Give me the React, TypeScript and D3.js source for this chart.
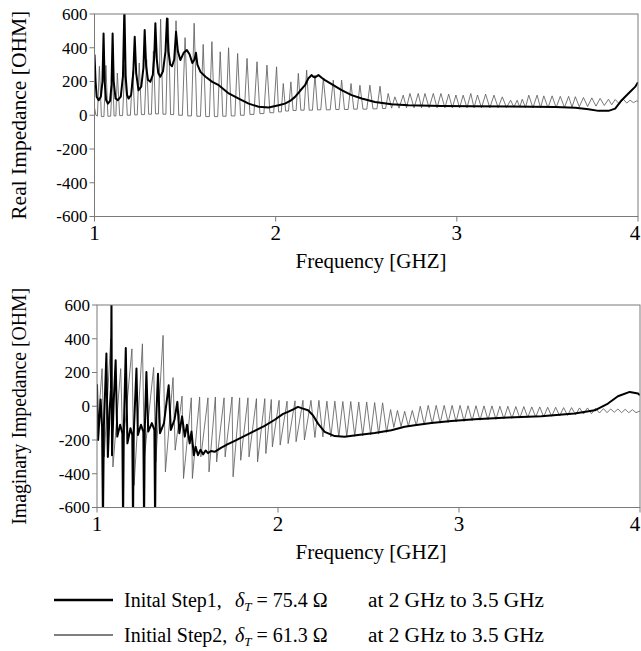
import * as d3 from 'd3';

type Pt = [number, number];

const FREQ_TICKS = [1, 2, 3, 4];
const IMP_TICKS = [-600, -400, -200, 0, 200, 400, 600];

// Initial Step1 (thick) - real part
const step1Real: Pt[] = [
  [1.000, 360], [1.006, 200], [1.012, 110], [1.023, 89], [1.035, 110], [1.044, 200], [1.050, 485],
  [1.056, 200], [1.064, 90], [1.074, 69], [1.086, 85], [1.094, 180], [1.100, 485], [1.106, 200],
  [1.116, 100], [1.129, 89], [1.145, 110], [1.157, 230], [1.165, 640], [1.172, 230], [1.180, 120],
  [1.188, 99], [1.202, 120], [1.214, 250], [1.222, 465], [1.230, 250], [1.243, 148], [1.258, 170],
  [1.270, 280], [1.277, 505], [1.285, 290], [1.295, 210], [1.308, 198], [1.322, 240], [1.330, 350],
  [1.336, 545], [1.344, 330], [1.352, 250], [1.363, 228], [1.378, 260], [1.392, 380], [1.400, 574],
  [1.408, 380], [1.418, 300], [1.428, 290], [1.440, 330], [1.450, 495], [1.460, 380], [1.474, 327],
  [1.492, 370], [1.510, 386], [1.525, 360], [1.540, 310], [1.552, 330], [1.560, 370], [1.568, 300],
  [1.585, 257], [1.613, 228], [1.650, 198], [1.686, 178], [1.741, 129], [1.796, 99], [1.851, 69],
  [1.906, 50], [1.961, 46], [2.017, 59], [2.051, 69], [2.080, 85], [2.107, 109], [2.135, 145],
  [2.162, 178], [2.180, 218], [2.199, 238], [2.208, 228], [2.217, 224], [2.236, 238], [2.254, 222],
  [2.272, 208], [2.318, 178], [2.364, 149], [2.419, 119], [2.475, 99], [2.548, 79], [2.640, 65],
  [2.732, 59], [2.916, 55], [3.081, 53], [3.300, 52], [3.544, 49], [3.654, 45], [3.727, 36],
  [3.782, 26], [3.837, 26], [3.874, 39], [3.910, 89], [3.947, 129], [3.984, 168], [4.000, 196],
];

// Initial Step2 (thin) - real part: narrow spikes over a flat floor
const step2Real: Pt[] = [
  [1.000, 45], [1.008, 0], [1.016, -5], [1.027, 290], [1.038, -8], [1.052, -8], [1.063, 295],
  [1.074, -6], [1.089, -6], [1.100, 240], [1.108, -4], [1.118, -4], [1.126, 250], [1.139, -2],
  [1.155, -2], [1.168, 300], [1.181, 0], [1.198, 0], [1.211, 260], [1.222, 2], [1.236, 2],
  [1.247, 310], [1.259, 4], [1.276, 4], [1.288, 330], [1.299, 6], [1.314, 6], [1.325, 380],
  [1.337, 8], [1.353, 8], [1.365, 570], [1.378, 6], [1.394, 6], [1.407, 575], [1.420, 4],
  [1.437, 4], [1.450, 560], [1.465, 0], [1.485, 0], [1.500, 460], [1.515, -4], [1.535, -4],
  [1.550, 545], [1.565, -6], [1.585, -6], [1.600, 420], [1.614, -8], [1.634, -8], [1.648, 436],
  [1.662, -8], [1.680, -8], [1.694, 376], [1.708, -6], [1.726, -6], [1.740, 400], [1.755, -4],
  [1.775, -4], [1.790, 366], [1.806, 0], [1.826, 0], [1.842, 337], [1.858, 5], [1.880, 5],
  [1.897, 317], [1.913, 10], [1.935, 10], [1.952, 297], [1.968, 15], [1.989, 15], [2.005, 287],
  [2.016, 20], [2.031, 20], [2.042, 188], [2.055, 25], [2.071, 25], [2.084, 198], [2.096, 28],
  [2.113, 28], [2.125, 248], [2.139, 30], [2.157, 30], [2.171, 267], [2.185, 30], [2.203, 30],
  [2.217, 238], [2.231, 32], [2.249, 32], [2.263, 218], [2.280, 32], [2.301, 32], [2.318, 208],
  [2.332, 34], [2.350, 34], [2.364, 208], [2.380, 34], [2.400, 34], [2.416, 188], [2.431, 36],
  [2.450, 36], [2.465, 178], [2.482, 36], [2.503, 36], [2.520, 178], [2.537, 38], [2.559, 38],
  [2.576, 172], [2.590, 40], [2.607, 40], [2.621, 129], [2.640, 42], [2.658, 109], [2.681, 42],
  [2.704, 119], [2.722, 44], [2.741, 129], [2.764, 44], [2.787, 129], [2.805, 44], [2.824, 129],
  [2.847, 44], [2.870, 129], [2.891, 44], [2.912, 129], [2.934, 44], [2.955, 125], [2.975, 44],
  [2.995, 120], [3.015, 44], [3.035, 119], [3.056, 44], [3.077, 129], [3.095, 44], [3.114, 120],
  [3.136, 44], [3.159, 125], [3.182, 44], [3.205, 119], [3.228, 45], [3.251, 109], [3.274, 46],
  [3.297, 89], [3.315, 48], [3.333, 89], [3.347, 48], [3.361, 95], [3.379, 46], [3.397, 119],
  [3.420, 44], [3.443, 119], [3.462, 44], [3.480, 115], [3.503, 44], [3.526, 115], [3.548, 45],
  [3.571, 112], [3.594, 46], [3.617, 112], [3.636, 48], [3.654, 110], [3.676, 50], [3.699, 105],
  [3.722, 52], [3.745, 103], [3.768, 54], [3.791, 100], [3.814, 58], [3.837, 95], [3.855, 62],
  [3.874, 93], [3.897, 68], [3.919, 95], [3.938, 72], [3.956, 89], [3.975, 75], [3.993, 85],
  [4.000, 82],
];

// Initial Step1 (thick) - imaginary part
const step1Imag: Pt[] = [
  [1.000, 130], [1.006, -200], [1.020, 40], [1.028, -120], [1.033, -700], [1.038, -120], [1.052, 312],
  [1.060, -300], [1.070, -20], [1.077, 100], [1.080, 650], [1.083, -290], [1.092, 20], [1.103, 272],
  [1.112, -180], [1.128, -110], [1.140, -160], [1.144, -700], [1.148, -150], [1.159, 345], [1.168, -220],
  [1.185, -130], [1.195, -170], [1.199, -700], [1.203, -160], [1.218, 223], [1.226, -170], [1.243, -110],
  [1.256, -150], [1.260, -700], [1.264, -140], [1.273, 203], [1.283, -150], [1.303, -100], [1.317, -140],
  [1.321, -700], [1.325, -130], [1.337, 193], [1.348, -160], [1.370, -100], [1.396, 124], [1.408, -140],
  [1.428, -80], [1.444, 26], [1.455, -160], [1.470, -60], [1.485, -180], [1.497, -110], [1.512, -220],
  [1.522, -150], [1.535, -290], [1.545, -240], [1.558, -290], [1.572, -258], [1.586, -285], [1.600, -262],
  [1.613, -278], [1.630, -265], [1.650, -270], [1.687, -245], [1.723, -225], [1.761, -205], [1.816, -176],
  [1.871, -146], [1.926, -116], [1.982, -80], [2.028, -45], [2.055, -33], [2.090, -15], [2.110, -4],
  [2.138, -14], [2.166, -24], [2.193, -53], [2.221, -103], [2.258, -152], [2.313, -177], [2.368, -181],
  [2.442, -171], [2.534, -158], [2.626, -142], [2.700, -122], [2.755, -112], [2.847, -99], [2.958, -87],
  [3.087, -77], [3.271, -67], [3.455, -59], [3.639, -43], [3.750, -24], [3.823, 16], [3.878, 59],
  [3.943, 85], [3.989, 75], [4.000, 65],
];

// Initial Step2 (thin) - imaginary part
const step2Imag: Pt[] = [
  [1.000, -200], [1.028, 223], [1.040, -300], [1.076, 400], [1.088, -360], [1.131, 223], [1.143, -250],
  [1.193, 340], [1.205, -468], [1.251, 370], [1.262, -300], [1.313, 230], [1.325, -330], [1.365, 420],
  [1.378, -389], [1.420, 170], [1.432, -260], [1.470, 60], [1.478, -428], [1.521, 50], [1.527, -428],
  [1.567, 55], [1.574, -300], [1.613, 50], [1.619, -389], [1.654, 55], [1.661, -330], [1.702, 50],
  [1.708, -300], [1.746, 55], [1.752, -418], [1.788, 50], [1.794, -320], [1.834, 50], [1.840, -300],
  [1.881, 45], [1.887, -330], [1.927, 45], [1.933, -280], [1.963, 40], [1.969, -241], [2.006, 35],
  [2.012, -230], [2.050, 30], [2.056, -221], [2.094, 32], [2.100, -210], [2.138, 35], [2.146, -200],
  [2.182, 35], [2.204, -185], [2.226, 35], [2.248, -182], [2.270, 30], [2.292, -182], [2.314, 30],
  [2.336, -182], [2.358, 28], [2.380, -180], [2.402, 28], [2.424, -178], [2.446, 25], [2.468, -175],
  [2.490, 25], [2.512, -170], [2.534, 22], [2.556, -165], [2.578, 20], [2.600, -155], [2.622, -20],
  [2.640, -125], [2.660, -25], [2.680, -120], [2.700, -30], [2.720, -118], [2.742, -25], [2.764, -115],
  [2.786, 0], [2.808, -110], [2.830, 5], [2.852, -105], [2.874, 5], [2.896, -100], [2.918, 5],
  [2.940, -96], [2.962, 5], [2.984, -93], [3.006, 5], [3.028, -90], [3.050, 3], [3.072, -86],
  [3.094, 3], [3.116, -83], [3.138, 2], [3.160, -80], [3.182, 2], [3.204, -78], [3.226, 0],
  [3.248, -75], [3.270, 0], [3.292, -72], [3.314, -2], [3.336, -70], [3.358, -2], [3.380, -67],
  [3.402, -4], [3.424, -64], [3.446, -4], [3.468, -62], [3.490, -6], [3.512, -60], [3.534, -6],
  [3.556, -57], [3.578, -8], [3.600, -54], [3.622, -8], [3.644, -50], [3.666, -10], [3.688, -46],
  [3.710, -10], [3.732, -44], [3.754, -12], [3.776, -40], [3.798, -14], [3.818, -38], [3.838, -16],
  [3.858, -36], [3.878, -16], [3.898, -38], [3.918, -18], [3.938, -38], [3.958, -20], [3.978, -38],
  [4.000, -28],
];

const LEGEND = [
  { name: 'Inital Step1,', delta: '75.4', range: 'at 2 GHz to 3.5 GHz', thick: true },
  { name: 'Initial Step2,', delta: '61.3', range: 'at 2 GHz to 3.5 GHz', thick: false },
];

const FONT = 'Liberation Serif, Tinos, Times New Roman, DejaVu Serif, serif';
const AXIS = '#7a7a7a';

function Panel({ box, label, labelLen, s1, s2, id }: any) {
  const x = d3.scaleLinear().domain([1, 4]).range([box.left, box.right]);
  const y = d3.scaleLinear().domain([-600, 600]).range([box.bottom, box.top]);
  const line = d3.line<Pt>().x(d => x(d[0])).y(d => y(d[1]));
  const midY = (box.top + box.bottom) / 2;

  return (
    <g>
      <defs>
        <clipPath id={id}>
          <rect x={box.left} y={box.top} width={box.right - box.left} height={box.bottom - box.top} />
        </clipPath>
      </defs>
      <g clipPath={`url(#${id})`}>
        <path d={line(s2) || ''} fill="none" stroke="#606060" strokeWidth={0.85} strokeLinejoin="round" />
        <path d={line(s1) || ''} fill="none" stroke="#000" strokeWidth={2} strokeLinejoin="round" />
      </g>
      <rect x={box.left} y={box.top} width={box.right - box.left} height={box.bottom - box.top}
        fill="none" stroke={AXIS} strokeWidth={1} />
      {IMP_TICKS.map(t => (
        <g key={t}>
          <line x1={box.left - 5} x2={box.left} y1={y(t)} y2={y(t)} stroke={AXIS} />
          <text x={box.left - 7} y={y(t)} dy="0.35em" textAnchor="end" fontSize={17}
            fontFamily={FONT}>{t}</text>
        </g>
      ))}
      {FREQ_TICKS.map(t => (
        <g key={t}>
          <line x1={x(t)} x2={x(t)} y1={box.bottom} y2={box.bottom + 5} stroke={AXIS} />
          <text x={Math.min(x(t), 635)} y={box.bottom + 23} textAnchor="middle" fontSize={21}
            fontFamily={FONT}>{t}</text>
        </g>
      ))}
      <text x={371} y={box.bottom + 51} textAnchor="middle" fontSize={21} fontFamily={FONT}>
        Frequency [GHZ]
      </text>
      <text transform={`translate(26,${midY}) rotate(-90)`} textAnchor="middle" fontSize={20}
        fontFamily={FONT} textLength={labelLen} lengthAdjust="spacingAndGlyphs">{label}</text>
    </g>
  );
}

export default function App() {
  return (
    <svg width={641} height={651} style={{ position: 'absolute', left: 0, top: 0, background: '#fff' }}>
      <Panel id="clipRe" box={{ left: 94.5, right: 638, top: 14, bottom: 216.5 }}
        label="Real Impedance [OHM]" labelLen={209} s1={step1Real} s2={step2Real} />
      <Panel id="clipIm" box={{ left: 97, right: 640, top: 305, bottom: 507.5 }}
        label="Imaginary Impedance [OHM]" labelLen={237} s1={step1Imag} s2={step2Imag} />
      {LEGEND.map((d, i) => {
        const ly = 600 + i * 35;
        return (
          <g key={d.name} fontFamily={FONT} fontSize={20}>
            <line x1={54} x2={113} y1={ly} y2={ly} stroke="#000" strokeWidth={d.thick ? 2.5 : 1} />
            <text x={124} y={ly + 7}>{d.name}</text>
            <text x={235} y={ly + 7}>
              <tspan fontStyle="italic">δ</tspan>
              <tspan fontStyle="italic" fontSize={13} dy={4}>T</tspan>
              <tspan dy={-4}> = {d.delta} Ω</tspan>
            </text>
            <text x={368} y={ly + 7} textLength={176} lengthAdjust="spacingAndGlyphs">{d.range}</text>
          </g>
        );
      })}
    </svg>
  );
}
